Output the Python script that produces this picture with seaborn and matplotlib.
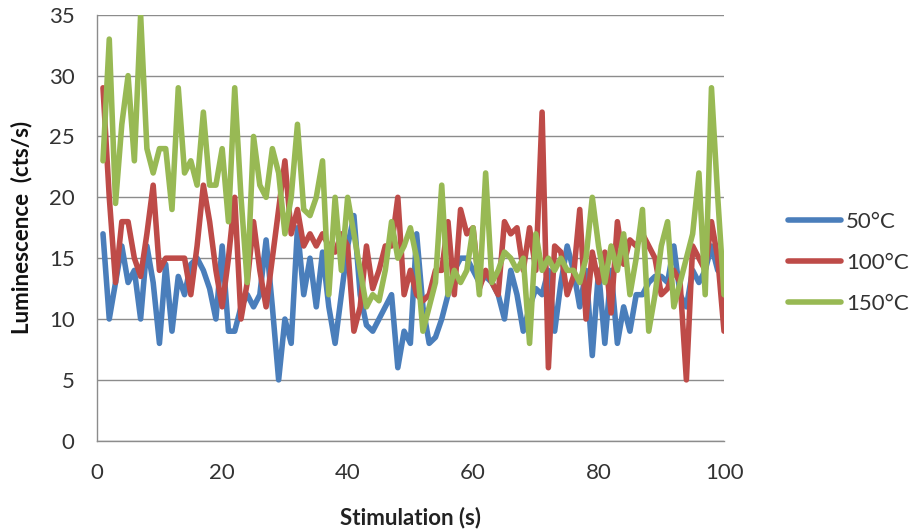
import numpy as np
import pandas as pd
import matplotlib
matplotlib.use("Agg")
import matplotlib.pyplot as plt
import seaborn as sns

stimulation = list(range(1, 101))

lum_50 = [17, 10, 13, 16, 13, 14, 10, 16, 13, 8,
          14.5, 9, 13.5, 12, 14.5, 15, 14, 12.5, 10, 16,
          9, 9, 11, 12, 11, 12, 16.5, 11, 5, 10,
          8, 17.5, 12, 15, 11, 15.5, 11, 8, 12, 16,
          18.5, 12, 9.5, 9, 10, 11, 12, 6, 9, 8,
          17, 11, 8, 8.5, 10, 12, 14, 15, 15, 14,
          13, 13.5, 13, 12, 10, 14, 12, 9, 11, 12.5,
          12, 14, 9, 13, 16, 14, 11, 14, 7, 14,
          8, 14, 8, 11, 9, 12, 12, 13, 13.5, 13.5,
          13, 16, 12, 11, 14, 13, 14, 16, 14, 15]

lum_100 = [29, 20, 13, 18, 18, 15, 13.5, 17, 21, 14,
           15, 15, 15, 15, 12, 16, 21, 18, 14, 11,
           15, 20, 10, 13, 18, 14, 11, 15, 19, 23,
           17, 19, 16, 17, 16, 17, 16, 15.5, 17, 16,
           9, 11, 16, 12.5, 14, 16, 16, 20, 12, 14,
           12, 11.5, 12, 14, 14, 18, 12, 19, 17, 17.5,
           12.5, 14, 13, 12, 18, 17, 17.5, 14, 17.5, 14,
           27, 6, 16, 15.5, 12, 13.5, 19, 10, 15.5, 13,
           15.5, 10.5, 18, 14.5, 16.5, 16, 17, 16, 15, 12,
           12.5, 14, 13, 5, 16, 15, 14, 18, 15, 9]

lum_150 = [23, 33, 19.5, 26, 30, 23, 35, 24, 22, 24,
           24, 19, 29, 22, 23, 21, 27, 21, 21, 24,
           18, 29, 20, 13, 25, 21, 20, 24, 22, 17,
           20, 26, 19, 18.5, 20, 23, 12, 20, 14, 20,
           17, 14, 11, 12, 11.5, 14, 18, 15, 16, 17.5,
           15, 9, 11, 13, 21, 12, 14, 13, 14, 17.5,
           12, 22, 13, 14, 15.5, 15, 14, 15, 8, 17,
           14, 15, 14, 15, 14, 14, 13, 15, 20, 16,
           13, 16, 14, 17, 12, 15, 19, 9, 12, 16,
           18, 11, 13, 15, 17, 22, 12, 29, 20, 12]

series_names = ["50°C", "100°C", "150°C"]
series_colors = ["#4A7EBB", "#BE4B48", "#98B954"]

df = pd.DataFrame({
    "Stimulation (s)": stimulation * 3,
    "Luminescence": lum_50 + lum_100 + lum_150,
    "Series": [series_names[0]] * 100 + [series_names[1]] * 100 + [series_names[2]] * 100,
})

sns.set_style("white")
plt.rcParams["font.family"] = ["Lato", "DejaVu Sans"]

fig = plt.figure(figsize=(9.09, 5.31), dpi=100)
ax = fig.add_axes([0.1064, 0.170, 0.6901, 0.8022])

sns.lineplot(data=df, x="Stimulation (s)", y="Luminescence", hue="Series",
             palette=series_colors, hue_order=series_names, linewidth=4.0,
             ax=ax, legend=True, sort=False)
for ln in ax.get_lines():
    ln.set_solid_joinstyle("round")
    ln.set_solid_capstyle("round")

ax.set_xlim(0, 100)
ax.set_ylim(0, 35)
ax.set_xticks(range(0, 101, 20))
ax.set_yticks(range(0, 36, 5))
ax.yaxis.grid(True, color="#8c8c8c", linewidth=1.0)
ax.xaxis.grid(False)
ax.set_axisbelow(True)
for s in ["top", "right"]:
    ax.spines[s].set_visible(False)
for s in ["left", "bottom"]:
    ax.spines[s].set_color("#8c8c8c")
    ax.spines[s].set_linewidth(1.0)
ax.tick_params(axis="both", direction="out", length=6, width=1.0, color="#8c8c8c",
               labelsize=16, labelcolor="#333333")
ax.tick_params(axis="y", pad=10)
ax.tick_params(axis="x", pad=10)

ax.set_xlabel("Stimulation (s)", fontsize=16, fontweight="bold", color="#222222", labelpad=17)
ax.set_ylabel("Luminescence  (cts/s)", fontsize=16, fontweight="bold", color="#111111", labelpad=12)

handles, labels = ax.get_legend_handles_labels()
leg = ax.legend(handles, labels, loc="center left", bbox_to_anchor=(0.845, 0.505),
                bbox_transform=fig.transFigure, frameon=False, fontsize=16,
                handlelength=2.4, handletextpad=0.2, labelspacing=0.95)
for h in leg.get_lines():
    h.set_linewidth(4.0)
for t in leg.get_texts():
    t.set_color("#333333")

fig.savefig("out.png", dpi=100)
